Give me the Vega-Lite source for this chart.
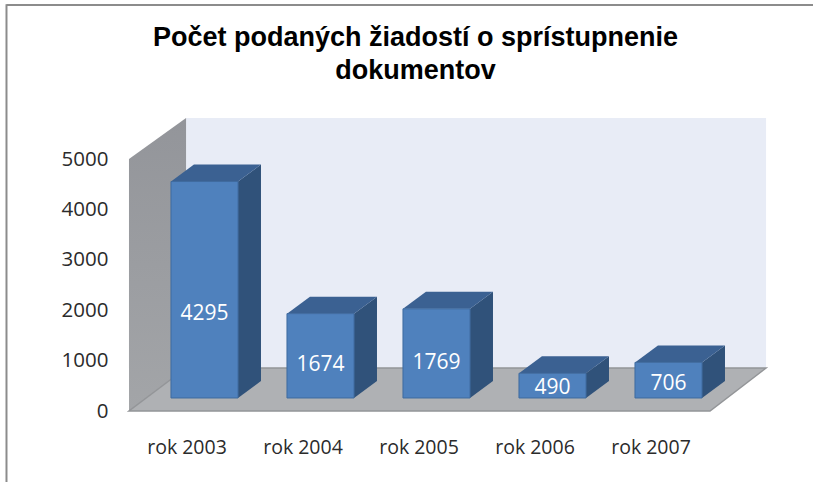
{
"$schema":"https://vega.github.io/schema/vega-lite/v6.json",
"width":813,"height":482,"padding":0,"autosize":{"type":"none"},"background":"#ffffff",
"config":{"view":{"stroke":null}},
"title":{"text":["Počet podaných žiadostí o sprístupnenie","dokumentov"],"font":"Liberation Sans","fontSize":27,"fontWeight":"bold","color":"#000000","anchor":"middle","dx":9,"offset":-85,"lineHeight":33},
"datasets":{
"ziadosti":[{"rok":2003,"pocet":4295},{"rok":2004,"pocet":1674},{"rok":2005,"pocet":1769},{"rok":2006,"pocet":490},{"rok":2007,"pocet":706}],
"hlbka":[{"h":0},{"h":1}],
"jeden":[{"n":1}]
},
"layer":[
{"data":{"name":"jeden"},"mark":{"type":"rect","color":"#e8ecf6"},
 "encoding":{
  "x":{"datum":2002.841,"type":"quantitative","scale":{"domain":[2001.23707,2008.24569],"nice":false,"zero":false},
   "axis":{"title":null,"values":[2003,2004,2005,2006,2007],"labelExpr":"'rok ' + datum.value","domain":false,"ticks":false,"grid":false,"labelFont":"Open Sans","labelFontSize":19.5,"labelColor":"#2b2b2b","labelPadding":0,"offset":-44,"labelOffset":-18,"labelFlush":false,"labelOverlap":false}},
  "x2":{"datum":2007.841},
  "y":{"datum":853,"type":"quantitative","scale":{"domain":[-1408.7,8154.8],"nice":false,"zero":false},
   "axis":{"title":null,"values":[0,1000,2000,3000,4000,5000],"domain":false,"ticks":false,"grid":false,"format":"d","labelFont":"Open Sans","labelFontSize":20.5,"labelColor":"#2b2b2b","labelPadding":0,"offset":-108}},
  "y2":{"datum":5813}
 }},
{"data":{"name":"jeden"},"mark":{"type":"rule","color":"#8c8c8c","strokeWidth":2},
 "encoding":{"x":{"datum":2001.293,"type":"quantitative"},"y":{"datum":-1408.7,"type":"quantitative"},"y2":{"datum":8070}}},
{"data":{"name":"jeden"},"mark":{"type":"rule","color":"#8c8c8c","strokeWidth":2},
 "encoding":{"x":{"datum":2001.293,"type":"quantitative"},"x2":{"datum":2008.24569},"y":{"datum":8055,"type":"quantitative"}}},
{"data":{"name":"hlbka"},
 "transform":[{"calculate":"2002.349+datum.h*0.492","as":"xs"},{"calculate":"datum.h*853","as":"yd"},{"calculate":"5000+datum.h*813","as":"yh"}],
 "mark":{"type":"area","orient":"vertical","color":{"gradient":"linear","x1":0,"y1":0,"x2":0,"y2":1,"stops":[{"offset":0,"color":"#93959a"},{"offset":1,"color":"#a3a5a8"}]},"opacity":1},
 "encoding":{"x":{"field":"xs","type":"quantitative"},"y":{"field":"yh","type":"quantitative"},"y2":{"field":"yd"}}},
{"data":{"name":"hlbka"},
 "transform":[{"calculate":"2002.349+datum.h*0.492","as":"xl"},{"calculate":"2007.358+datum.h*0.483","as":"xr"},{"calculate":"datum.h*853","as":"yd"}],
 "mark":{"type":"area","orient":"horizontal","color":"#afb1b4","stroke":"#939598","strokeWidth":1.5,"opacity":1},
 "encoding":{"x":{"field":"xl","type":"quantitative"},"x2":{"field":"xr"},"y":{"field":"yd","type":"quantitative"}}},
{"data":{"name":"ziadosti"},
 "transform":[
  {"calculate":"258","as":"zaklad"},
  {"calculate":"datum.zaklad+datum.pocet","as":"vrch"},
  {"calculate":"datum.rok-0.289","as":"xl"},
  {"calculate":"datum.rok+0.289","as":"xr"},
  {"calculate":"[0,1]","as":"k"},
  {"flatten":["k"]},
  {"calculate":"datum.xr+datum.k*0.198","as":"bokX"},
  {"calculate":"datum.xl+datum.k*0.198","as":"vrchXl"},
  {"calculate":"datum.xr+datum.k*0.198","as":"vrchXr"},
  {"calculate":"datum.zaklad+datum.k*337","as":"bokDole"},
  {"calculate":"datum.vrch+datum.k*337","as":"bokHore"},
  {"calculate":"datum.zaklad+datum.pocet*0.39","as":"popisY"}
 ],
 "layer":[
  {"mark":{"type":"area","orient":"vertical","color":"#30527a","opacity":1},
   "encoding":{"x":{"field":"bokX","type":"quantitative"},"y":{"field":"bokHore","type":"quantitative"},"y2":{"field":"bokDole"},"detail":{"field":"rok"}}},
  {"mark":{"type":"area","orient":"horizontal","color":"#3b6192","opacity":1},
   "encoding":{"x":{"field":"vrchXl","type":"quantitative"},"x2":{"field":"vrchXr"},"y":{"field":"bokHore","type":"quantitative"},"detail":{"field":"rok"}}},
  {"transform":[{"filter":"datum.k==0"}],"mark":{"type":"rect","color":"#4f81bd","stroke":"#3f6b9f","strokeWidth":1},
   "encoding":{"x":{"field":"xl","type":"quantitative"},"x2":{"field":"xr"},"y":{"field":"vrch","type":"quantitative"},"y2":{"field":"zaklad"}}},
  {"transform":[{"filter":"datum.k==0"}],"mark":{"type":"text","color":"#ffffff","font":"Open Sans","fontSize":21,"align":"center","baseline":"middle"},
   "encoding":{"x":{"field":"rok","type":"quantitative"},"y":{"field":"popisY","type":"quantitative"},"text":{"field":"pocet","type":"quantitative","format":"d"}}}
 ]}
]
}
